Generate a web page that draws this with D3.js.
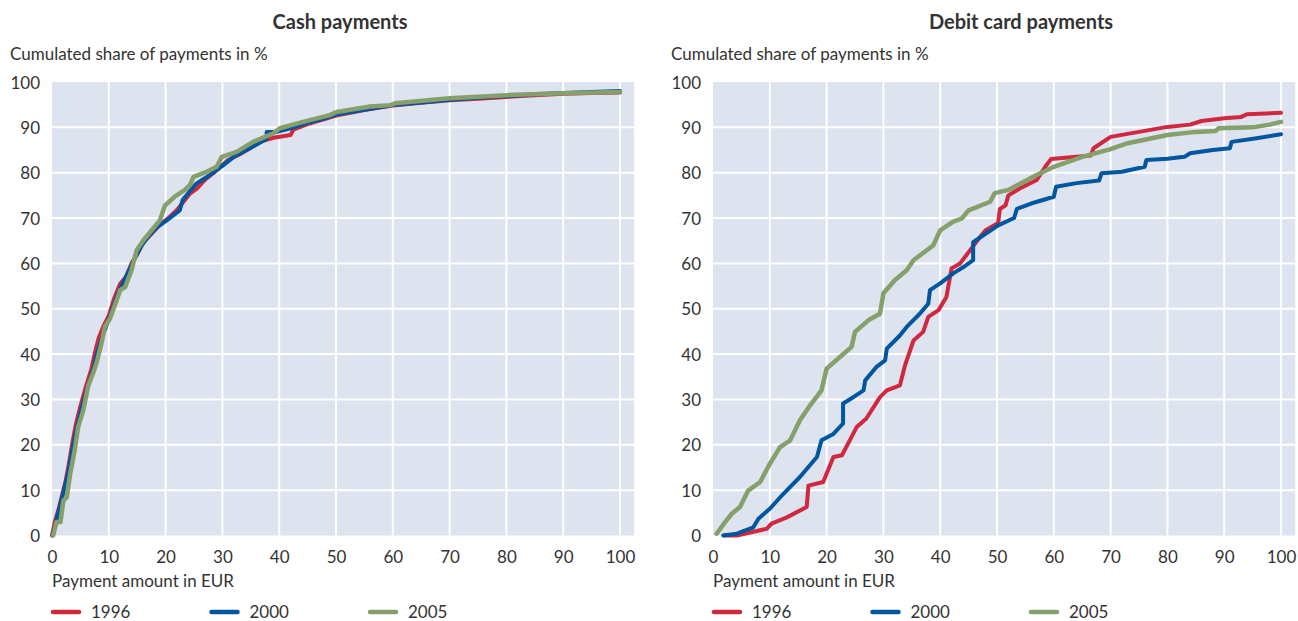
<!DOCTYPE html>
<html>
<head>
<meta charset="utf-8">
<script src="https://cdn.jsdelivr.net/npm/d3@7"></script>
<style>
  body { margin: 0; background: #fff; }
  text { font-family: Lato, "Open Sans", sans-serif; fill: #333; }
</style>
</head>
<body>
<svg id="chart" width="1298" height="621"></svg>
<script>
// Cumulative distribution of payments by amount, 1996 / 2000 / 2005

var years = ["1996", "2000", "2005"];
var colors = ["#d0283f", "#00569f", "#86a06c"];
var xTicks = [0, 10, 20, 30, 40, 50, 60, 70, 80, 90, 100];
var yTicks = [0, 10, 20, 30, 40, 50, 60, 70, 80, 90, 100];

// [payment amount in EUR, cumulated share in %]
var cash1996 = [[0,0],[0.5,3],[1.2,6],[1.7,8.5],[2.4,12],[3,16],[3.6,20.5],[4.2,24.5],[5,28.5],[6,33],[6.9,36.5],[7.5,40],[8.2,43.5],[9,46],[10,48.5],[11,52.5],[12,55.5],[13,57],[14,60],[15,62],[16,64.5],[17.5,66.5],[19,68.5],[20.5,70],[22,71.8],[24.3,75.4],[25.5,76.5],[27,78.5],[28.5,80],[30,81.7],[31,82.8],[33,84],[35,85.5],[37,87],[39,87.7],[42,88.3],[42.5,89.5],[45,90.7],[48,91.8],[50,92.6],[55,93.8],[60,94.8],[65,95.4],[70,96],[75,96.3],[80,96.7],[85,97.1],[90,97.4],[95,97.6],[100,97.7]];
var cash2000 = [[0.1,0],[0.7,3],[1.4,6.5],[2,9.5],[2.7,13],[3.3,17],[3.9,21],[4.6,25],[5.3,28.5],[6.2,32.5],[7.1,36],[7.8,39.5],[8.6,43],[9.5,46],[10.4,49],[11.5,53],[12.6,56],[13.6,58.5],[14.5,61],[15.8,64],[17,66],[18.5,68],[20.2,69.5],[22.5,71.7],[23,74],[25.4,77.6],[27.8,79.5],[30,81.5],[32,83.5],[35,85.5],[37.8,87.5],[37.8,89],[39.6,89],[42,89.8],[45,91],[48,92],[50,92.8],[55,93.9],[60,94.9],[65,95.5],[70,96.1],[75,96.5],[80,96.9],[85,97.3],[90,97.6],[95,97.8],[100,98]];
var cash2005 = [[0.2,0],[0.8,3],[1.5,3],[2,7.7],[2.6,8.4],[3.2,13.6],[4,18.8],[4.6,23.9],[5.5,27.6],[6.4,33.1],[7.3,36],[7.9,38.3],[8.7,42.3],[9.3,46],[10.2,47.8],[11.4,51.9],[12,54.1],[12.9,54.8],[14,58.5],[14.9,62.9],[16.1,65.1],[17.8,67.7],[19,69.5],[19.9,72.8],[21.6,74.7],[23.4,76.2],[24.3,77.3],[24.9,79.1],[27.2,80.2],[29,81.3],[29.9,83.5],[32.5,84.6],[35.4,86.8],[39,88.7],[40.1,89.8],[44.2,91.2],[48.9,92.7],[50.1,93.4],[56,94.6],[59.6,94.9],[60.4,95.3],[70,96.4],[80,97.1],[90,97.5],[100,97.8]];

var debit1996 = [[2,0],[4.2,0],[9.5,1.5],[10.3,2.6],[13,4],[16.5,6.3],[16.8,11],[19.4,11.8],[21.2,17.3],[22.7,17.7],[25.3,23.9],[27,25.8],[29.4,30.5],[30.6,32],[32.9,33.1],[33.8,37.5],[35.3,43],[37,44.9],[37.9,48.2],[39.7,49.7],[41.1,52.6],[42,58.9],[43.5,60],[44.6,61.8],[47,65.8],[48,67.3],[50.2,68.9],[50.5,72],[51.5,72.8],[52,75],[54,76.5],[57,78.4],[58.5,81.3],[59.5,83],[62,83.3],[66.5,83.8],[67,85.4],[70,87.9],[75,89],[80,90.1],[84,90.6],[86,91.4],[90,92],[93,92.3],[94,92.9],[100,93.2]];
var debit2000 = [[1.8,0],[4.2,0.4],[7.1,1.8],[8,3.7],[10,5.9],[12.4,9.2],[15.3,12.9],[18.3,17.3],[19.1,21],[21.2,22.4],[22.9,24.7],[22.9,29.1],[24.7,30.5],[26.5,32],[26.8,34.2],[28.8,37.2],[30.3,38.6],[30.6,41.2],[32.9,44.1],[34.1,46],[36.4,48.9],[37.9,51.1],[38.2,54.1],[40,55.6],[42.3,57.8],[44.1,59.2],[45.8,60.7],[45.8,64.7],[47.6,66.2],[50.2,68.4],[53,70],[53.5,72],[56,73.2],[60,74.7],[60.4,76.9],[64,77.7],[68,78.3],[68.4,79.9],[72,80.2],[76,81.3],[76.3,82.8],[80,83.1],[83,83.5],[84,84.3],[88,85],[91,85.4],[91.3,86.8],[95.7,87.6],[100,88.5]];
var debit2005 = [[0.65,0.4],[2.1,2.9],[3.3,4.8],[4.75,6.3],[6.2,9.9],[8.3,11.8],[10,15.8],[11.8,19.5],[13.6,21],[15.3,25.4],[17.1,28.7],[19.1,32],[20,36.8],[22.4,39.4],[24.4,41.6],[25,44.9],[27.4,47.5],[29.4,48.9],[30,53.4],[32,56.3],[34.1,58.5],[35.3,60.7],[38.8,64],[40,67.3],[42.3,69.2],[43.8,69.9],[45,71.7],[48.8,73.6],[49.6,75.5],[52,76.2],[57,79.5],[60,81.3],[65,83.5],[70,85.2],[73,86.5],[80,88.3],[85,89],[88.5,89.2],[89,89.8],[95,90],[98,90.6],[100,91.2]];

var svg = d3.select("#chart");

function drawPanel(opt) {
    var x = d3.scaleLinear().domain([0, 100]).range([opt.left, opt.left + 568]),
        y = d3.scaleLinear().domain([0, 100]).range([535.5, 82]);
    var xEnd = x(102.5);

    var g = svg.append("g");

    g.append("rect")
        .attr("x", x(0)).attr("y", y(100))
        .attr("width", xEnd - x(0)).attr("height", y(0) - y(100))
        .attr("fill", "#dde3ef");

    // grid
    g.selectAll(".vgrid").data(xTicks.filter(function(d) { return d > 0; }))
      .enter().append("line")
        .attr("x1", function(d) { return x(d); }).attr("x2", function(d) { return x(d); })
        .attr("y1", y(100)).attr("y2", y(0))
        .attr("stroke", "#fff").attr("stroke-width", 2);
    g.selectAll(".hgrid").data(yTicks.filter(function(d) { return d > 0 && d < 100; }))
      .enter().append("line")
        .attr("x1", x(0)).attr("x2", xEnd)
        .attr("y1", function(d) { return y(d); }).attr("y2", function(d) { return y(d); })
        .attr("stroke", "#fff").attr("stroke-width", 2);

    // axes (labels only)
    var yAxis = g.append("g")
        .attr("transform", "translate(" + (x(0) - 12) + ",0)")
        .call(d3.axisLeft(y).tickValues(yTicks).tickSize(0).tickPadding(0));
    var xAxis = g.append("g")
        .attr("transform", "translate(0," + (y(0) + 14) + ")")
        .call(d3.axisBottom(x).tickValues(xTicks).tickSize(0).tickPadding(0));
    [xAxis, yAxis].forEach(function(a) {
        a.select(".domain").remove();
        a.selectAll("text")
            .style("font-family", "Lato, sans-serif")
            .style("font-size", "17px")
            .attr("fill", "#333");
    });
    yAxis.selectAll("text").attr("dy", "0.36em");
    xAxis.selectAll("text").attr("dy", "0.8em");

    // lines
    var line = d3.line()
        .x(function(d) { return x(d[0]); })
        .y(function(d) { return y(d[1]); });

    opt.series.forEach(function(s, i) {
        g.append("path")
            .datum(s)
            .attr("d", line)
            .attr("fill", "none")
            .attr("stroke", colors[i])
            .attr("stroke-width", i == 2 ? 4.5 : 4)
            .attr("stroke-linejoin", "round")
            .attr("stroke-linecap", "round");
    });

    // titles and labels
    g.append("text")
        .attr("x", opt.titleX).attr("y", 29)
        .attr("text-anchor", "middle")
        .style("font-size", "20px").style("font-weight", "bold")
        .attr("fill", "#222")
        .text(opt.title);
    g.append("text")
        .attr("x", opt.left - 42).attr("y", 60)
        .style("font-size", "17px")
        .text("Cumulated share of payments in %");
    g.append("text")
        .attr("x", x(0)).attr("y", 587)
        .style("font-size", "17px")
        .text("Payment amount in EUR");

    // legend
    var leg = g.selectAll(".leg").data(years).enter().append("g")
        .attr("transform", function(d, i) { return "translate(" + (x(0) + i * 158.5) + ",612)"; });
    leg.append("line")
        .attr("x1", 1).attr("x2", 27)
        .attr("stroke", function(d, i) { return colors[i]; })
        .attr("stroke-width", 4.5).attr("stroke-linecap", "round");
    leg.append("text")
        .attr("x", 39).attr("dy", "0.36em")
        .style("font-size", "17px")
        .text(function(d) { return d; });
}

drawPanel({ left: 52, title: "Cash payments", titleX: 340,
            series: [cash1996, cash2000, cash2005] });
drawPanel({ left: 713, title: "Debit card payments", titleX: 1021,
            series: [debit1996, debit2000, debit2005] });
</script>
</body>
</html>
